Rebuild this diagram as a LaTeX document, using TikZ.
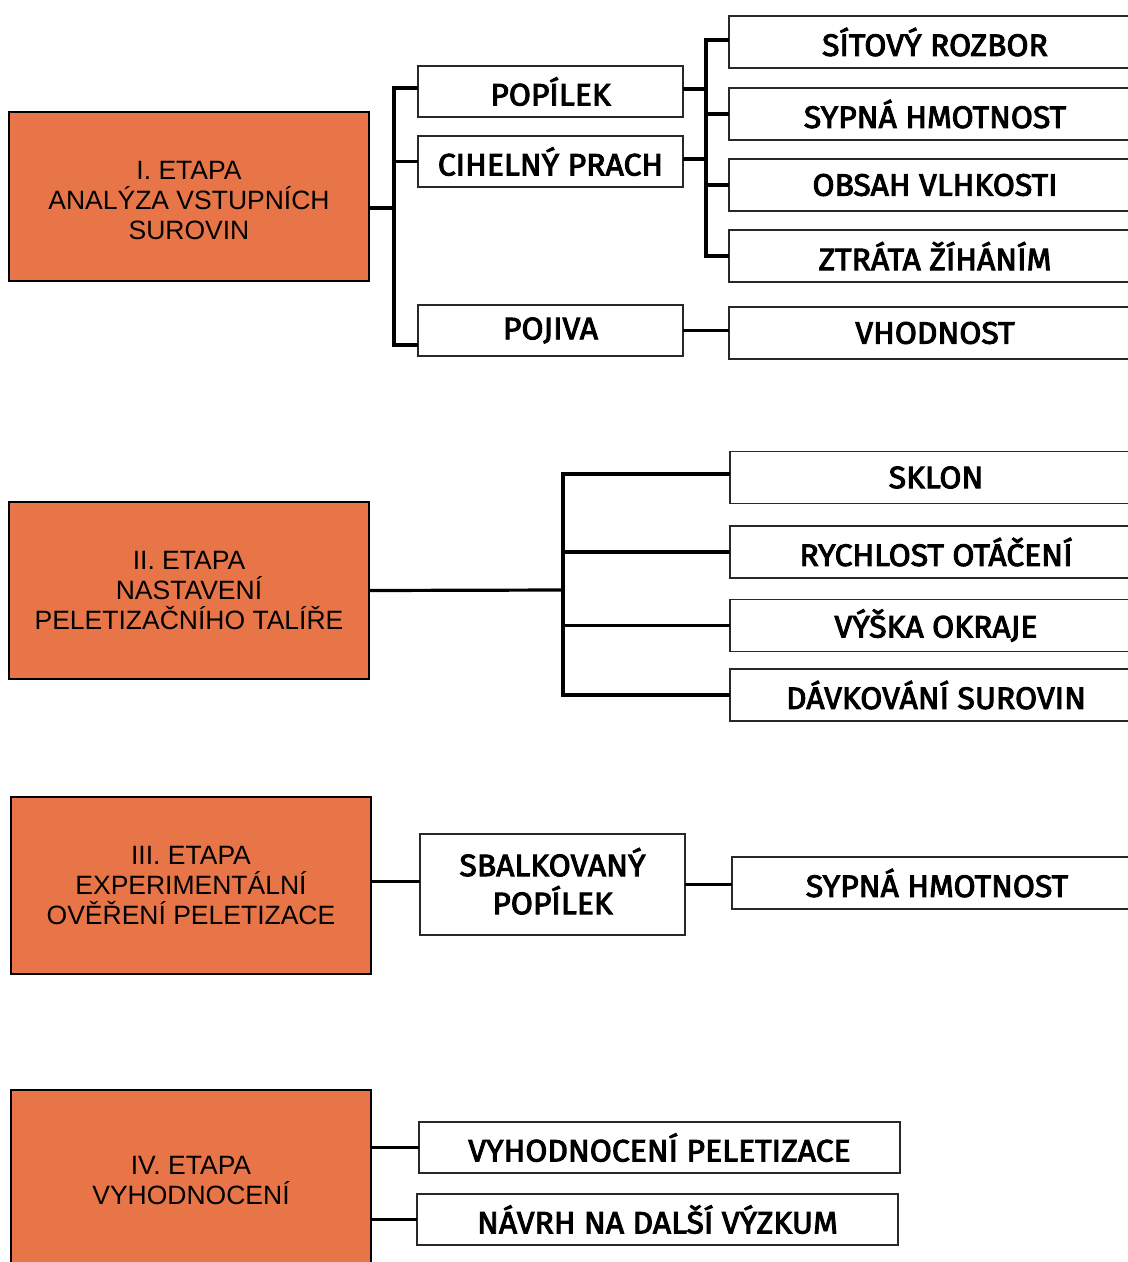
\documentclass[tikz,border=0pt]{standalone}
\usepackage{fontspec}
\setmainfont{Liberation Sans}
\newfontfamily\dinfont[FakeStretch=1.03,FakeBold=3]{Fira Sans}
\definecolor{etapaorange}{RGB}{232,117,72}
\definecolor{boxgrey}{RGB}{40,40,40}
\begin{document}
\begin{tikzpicture}[x=1pt,y=-1pt,
  etapa/.style={draw=black, line width=2.2pt, fill=etapaorange, align=center, inner sep=0pt, outer sep=0pt,
    minimum width=360pt, font=\fontsize{26.5}{30}\selectfont},
  item/.style={draw=boxgrey, line width=1.6pt, fill=white, align=center, inner sep=0pt, outer sep=0pt,
    font=\dinfont\fontsize{31}{38}\selectfont},
  lbox/.style={item, minimum width=265pt, minimum height=51pt},
  rbox/.style={item, minimum width=412pt, minimum height=52pt},
  wbox/.style={item, minimum width=481pt, minimum height=51pt},
  conn/.style={draw=black, line width=3.2pt}]
\useasboundingbox (0,0) rectangle (1128,1262);
\clip (0,0) rectangle (1128,1262);
\fill[white] (0,0) rectangle (1128,1262);

% ---- Stage I
\node[etapa, minimum height=169pt] (e1) at (189,196.5) {\rule{0pt}{27pt}I. ETAPA\\ANALÝZA VSTUPNÍCH\\SUROVIN};
\node[lbox] (popilek) at (550.5,91.5) {POPÍLEK};
\node[lbox] (cihelny) at (550.5,161.5) {CIHELNÝ PRACH};
\node[lbox] (pojiva) at (550.5,330.5) {POJIVA};
\node[rbox] (sitovy) at (935,42) {SÍTOVÝ ROZBOR};
\node[rbox] (sypna) at (935,114) {SYPNÁ HMOTNOST};
\node[rbox] (obsah) at (935,185) {OBSAH VLHKOSTI};
\node[rbox] (ztrata) at (935,256) {ZTRÁTA ŽÍHÁNÍM};
\node[rbox] (vhodnost) at (935,333) {VHODNOST};
\coordinate (t1) at (394,208);
\coordinate (t2) at (706,150);
\draw[conn] ([yshift=-11.5pt]e1.east) -- (t1);
\draw[conn] ([yshift=3.5pt]popilek.west) -- ([yshift=3.5pt]popilek.west -| t1) -- ([yshift=-14.5pt]pojiva.west -| t1) -- ([yshift=-14.5pt]pojiva.west);
\draw[conn] (cihelny.west) -- (cihelny.west -| t1);
\draw[conn] ([yshift=2pt]sitovy.west) -- ([yshift=2pt]sitovy.west -| t2) -- (ztrata.west -| t2) -- (ztrata.west);
\draw[conn] (sypna.west) -- (sypna.west -| t2);
\draw[conn] (obsah.west) -- (obsah.west -| t2);
\draw[conn] ([yshift=2.5pt]popilek.east) -- ([yshift=2.5pt]popilek.east -| t2);
\draw[conn] ([yshift=2.5pt]cihelny.east) -- ([yshift=2.5pt]cihelny.east -| t2);
\draw[conn] (pojiva.east) -- (pojiva.east -| vhodnost.west);

% ---- Stage II
\node[etapa, minimum height=177pt] (e2) at (189,590.5) {II. ETAPA\\NASTAVENÍ\\PELETIZAČNÍHO TALÍŘE};
\node[rbox] (sklon) at (936,477.5) {SKLON};
\node[rbox] (rychlost) at (936,552) {RYCHLOST OTÁČENÍ};
\node[rbox] (vyska) at (936,625.5) {VÝŠKA OKRAJE};
\node[rbox] (davkovani) at (936,695) {DÁVKOVÁNÍ SUROVIN};
\coordinate (t3) at (563,590);
\draw[conn] (e2.east) -- (t3);
\draw[conn] ([yshift=3.5pt]sklon.west) -- ([yshift=3.5pt]sklon.west -| t3) -- (davkovani.west -| t3) -- (davkovani.west);
\draw[conn] (rychlost.west) -- (rychlost.west -| t3);
\draw[conn] (vyska.west) -- (vyska.west -| t3);

% ---- Stage III
\node[etapa, minimum height=177pt] (e3) at (191,885.5) {III. ETAPA\\EXPERIMENTÁLNÍ\\OVĚŘENÍ PELETIZACE};
\node[lbox, minimum height=101pt] (sbalk) at (552.5,884.5) {SBALKOVANÝ\\POPÍLEK\rule[-7pt]{0pt}{1pt}};
\node[rbox, minimum width=410pt] (sypna2) at (937,883) {SYPNÁ HMOTNOST};
\draw[conn] ([yshift=4pt]e3.east) -- ([yshift=4pt]e3.east -| sbalk.west);
\draw[conn] (sbalk.east) -- (sbalk.east -| sypna2.west);

% ---- Stage IV
\node[etapa, minimum height=180pt] (e4) at (191,1180) {IV. ETAPA\\VYHODNOCENÍ};
\node[wbox] (vyhod) at (659.5,1147.5) {VYHODNOCENÍ PELETIZACE};
\node[wbox] (navrh) at (657.5,1219.5) {NÁVRH NA DALŠÍ VÝZKUM};
\draw[conn] (vyhod.west) -- (vyhod.west -| e4.east);
\draw[conn] (navrh.west) -- (navrh.west -| e4.east);
\end{tikzpicture}
\end{document}
